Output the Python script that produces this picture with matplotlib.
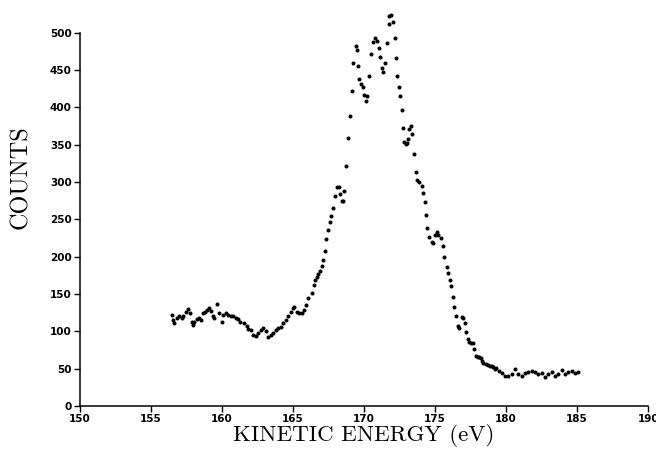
import numpy as np
import matplotlib
matplotlib.use("Agg")
import matplotlib.pyplot as plt

# Spectrum: kinetic energy (eV) and counts
energy = np.array([
    156.45, 156.57, 156.64, 156.80, 156.99, 157.16, 157.28, 157.44, 157.63, 157.75,
    157.86, 157.98, 158.05, 158.21, 158.38, 158.50, 158.64, 158.80, 158.92, 159.10,
    159.20, 159.34, 159.44, 159.67, 159.81, 159.98, 160.05, 160.26, 160.44, 160.63,
    160.80, 160.99, 161.15, 161.27, 161.55, 161.73, 161.85, 162.02, 162.20, 162.39,
    162.56, 162.75, 162.91, 163.10, 163.26, 163.43, 163.61, 163.80, 163.96, 164.13,
    164.32, 164.51, 164.67, 164.84, 164.98, 165.07, 165.26, 165.44, 165.61, 165.77,
    165.89, 166.08, 166.34, 166.46, 166.57, 166.67, 166.78, 166.90, 167.02, 167.11,
    167.23, 167.35, 167.49, 167.58, 167.70, 167.82, 167.96, 168.10, 168.24, 168.29,
    168.43, 168.54, 168.60, 168.73, 168.85, 169.01, 169.13, 169.25, 169.40, 169.50,
    169.60, 169.67, 169.80, 169.90, 170.00, 170.10, 170.19, 170.35, 170.50, 170.60,
    170.80, 170.90, 171.06, 171.15, 171.24, 171.36, 171.48, 171.60, 171.74, 171.78,
    171.88, 172.04, 172.16, 172.25, 172.35, 172.46, 172.54, 172.65, 172.77, 172.84,
    172.96, 173.00, 173.07, 173.17, 173.30, 173.40, 173.50, 173.64, 173.73, 173.87,
    174.06, 174.15, 174.27, 174.37, 174.46, 174.60, 174.76, 174.88, 175.00, 175.14,
    175.23, 175.42, 175.58, 175.66, 175.82, 175.89, 176.03, 176.13, 176.24, 176.31,
    176.45, 176.59, 176.71, 176.87, 176.99, 177.11, 177.18, 177.30, 177.40, 177.50,
    177.65, 177.77, 177.90, 178.00, 178.10, 178.20, 178.30, 178.40, 178.60, 178.70,
    178.87, 179.00, 179.10, 179.20, 179.30, 179.50, 179.70, 179.93, 180.16, 180.40,
    180.63, 180.87, 181.10, 181.34, 181.57, 181.81, 182.04, 182.28, 182.51, 182.75,
    182.98, 183.22, 183.45, 183.68, 183.92, 184.15, 184.39, 184.63, 184.86, 185.09,
])
counts = np.array([
    122, 115, 111, 118, 120, 118, 121, 126, 130, 124,
    113, 109, 113, 116, 118, 115, 124, 126, 129, 131,
    127, 121, 118, 136, 124, 113, 122, 124, 122, 121,
    120, 118, 117, 113, 111, 107, 103, 101, 95, 93,
    97, 102, 104, 100, 92, 95, 97, 102, 105, 106,
    111, 115, 121, 126, 131, 133, 126, 124, 125, 128,
    135, 144, 151, 162, 169, 173, 177, 181, 187, 195,
    208, 223, 236, 246, 254, 265, 281, 293, 293, 284,
    275, 274, 288, 321, 359, 389, 422, 460, 482, 477,
    455, 438, 432, 427, 417, 409, 416, 442, 472, 488,
    493, 489, 480, 468, 453, 447, 460, 486, 512, 523,
    524, 515, 493, 466, 442, 428, 416, 396, 372, 354,
    351, 352, 358, 371, 375, 364, 338, 314, 303, 300,
    295, 286, 273, 256, 239, 227, 220, 218, 229, 233,
    229, 225, 214, 200, 186, 178, 169, 160, 146, 133,
    121, 107, 105, 119, 118, 111, 99, 90, 86, 84,
    84, 76, 67, 65, 66, 64, 60, 58, 56, 55,
    54, 53, 52, 50, 51, 47, 44, 40, 40, 42,
    50, 42, 40, 44, 45, 47, 45, 43, 44, 39,
    43, 46, 40, 43, 48, 42, 45, 47, 44, 45,
])

xticks = np.arange(150, 191, 5)
yticks = np.arange(0, 501, 50)

fig = plt.figure(figsize=(6.56, 4.57), dpi=100)
ax = fig.add_axes([0.122, 0.112, 0.866, 0.816])

# points above 500 stick out past the top of the axis, as in the original
ax.plot(energy, counts, 'o', color='black', markersize=2.9, markeredgewidth=0,
        clip_on=False)

ax.set_xlim(150, 190)
ax.set_ylim(0, 500)
ax.set_xticks(xticks)
ax.set_yticks(yticks)
for lab in ax.get_xticklabels() + ax.get_yticklabels():
    lab.set_fontweight('bold')
    lab.set_fontsize(7.5)
ax.tick_params(direction='out', length=4, width=1, pad=2)

ax.spines['top'].set_visible(False)
ax.spines['right'].set_visible(False)
ax.spines['left'].set_linewidth(1.1)
ax.spines['bottom'].set_linewidth(1.1)

ax.set_xlabel('KINETIC ENERGY (eV)', fontfamily='cmr10', fontsize=16.5)
ax.set_ylabel('COUNTS', fontfamily='cmr10', fontsize=17.5)
ax.xaxis.set_label_coords(0.5, -0.049)
ax.yaxis.set_label_coords(-0.085, 0.614)

fig.savefig('out.png', dpi=100)
